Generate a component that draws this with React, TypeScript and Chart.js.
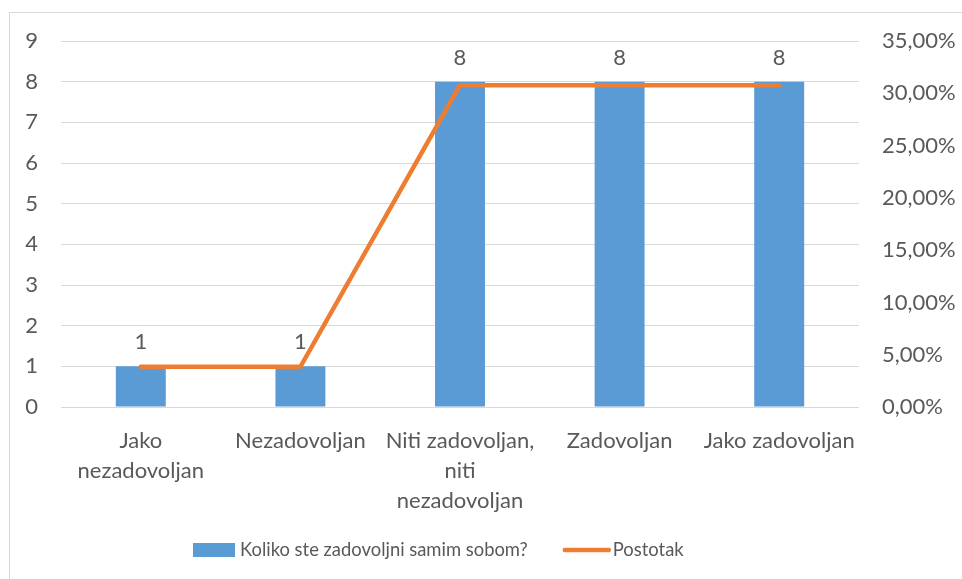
import React, { useEffect, useRef } from "react";
import { Chart, registerables } from "chart.js";

Chart.register(...registerables);

const categories: (string | string[])[] = [
  ["Jako", "nezadovoljan"],
  "Nezadovoljan",
  ["Niti zadovoljan,", "niti", "nezadovoljan"],
  "Zadovoljan",
  "Jako zadovoljan",
];
const counts = [1, 1, 8, 8, 8];
const percentages = [0.0385, 0.0385, 0.3077, 0.3077, 0.3077];
const barLabel = "Koliko ste zadovoljni samim sobom?";
const lineLabel = "Postotak";

const FONT = "Lato, sans-serif";
const TEXT = "#595959";
const BLUE = "#5b9bd5";
const ORANGE = "#ed7d31";
const GRID = "#d9d9d9";
const FS = 22;
const LEGEND_FS = 18.4;

const labelsPlugin = {
  id: "valueLabels",
  afterDatasetsDraw(chart: any) {
    const ctx = chart.ctx;
    const meta = chart.getDatasetMeta(1);
    ctx.save();
    ctx.font = `${FS}px ${FONT}`;
    ctx.fillStyle = TEXT;
    ctx.textAlign = "center";
    ctx.textBaseline = "middle";
    meta.data.forEach((el: any, i: number) => {
      ctx.fillText(String(counts[i]), el.x, el.y - 24);
    });
    ctx.restore();
  },
};

const legendPlugin = {
  id: "customLegend",
  afterDraw(chart: any) {
    const ctx = chart.ctx;
    ctx.save();
    ctx.font = `${LEGEND_FS}px ${FONT}`;
    ctx.textBaseline = "middle";
    ctx.textAlign = "left";
    const y = 550;
    let x = 193;
    ctx.fillStyle = BLUE;
    ctx.fillRect(x, y - 7, 42, 14);
    x += 47;
    ctx.fillStyle = TEXT;
    ctx.fillText(barLabel, x, y);
    x += ctx.measureText(barLabel).width + 36;
    ctx.strokeStyle = ORANGE;
    ctx.lineWidth = 4.5;
    ctx.lineCap = "round";
    ctx.beginPath();
    ctx.moveTo(x + 1, y);
    ctx.lineTo(x + 45, y);
    ctx.stroke();
    x += 49;
    ctx.fillText(lineLabel, x, y);
    ctx.restore();
  },
};

export default function App() {
  const ref = useRef<HTMLCanvasElement>(null);
  useEffect(() => {
    const chart = new Chart(ref.current!, {
      type: "bar",
      data: {
        labels: categories as any,
        datasets: [
          {
            type: "line",
            label: lineLabel,
            data: percentages,
            yAxisID: "y1",
            borderColor: ORANGE,
            backgroundColor: ORANGE,
            borderWidth: 4.5,
            pointRadius: 0,
            borderCapStyle: "round",
            borderJoinStyle: "round",
            order: 0,
          } as any,
          {
            type: "bar",
            label: barLabel,
            data: counts,
            yAxisID: "y",
            backgroundColor: BLUE,
            categoryPercentage: 1,
            barPercentage: 0.313,
            order: 1,
          } as any,
        ],
      },
      options: {
        responsive: false,
        animation: false,
        layout: { padding: { top: 41, left: 0, right: 0, bottom: 0 } },
        plugins: { legend: { display: false }, tooltip: { enabled: false } },
        scales: {
          x: {
            grid: { display: false },
            border: { display: false },
            ticks: {
              color: TEXT,
              font: { family: FONT, size: FS, lineHeight: 1.36 },
              padding: 11,
              maxRotation: 0,
              autoSkip: false,
            },
            afterFit(scale: any) {
              scale.height = 172;
            },
          },
          y: {
            position: "left",
            min: 0,
            max: 9,
            ticks: {
              stepSize: 1,
              color: TEXT,
              font: { family: FONT, size: FS },
              padding: 23,
            },
            grid: { color: GRID, lineWidth: 1, drawTicks: false },
            border: { display: false },
            afterFit(scale: any) {
              scale.width = 61;
            },
          },
          y1: {
            position: "right",
            min: 0,
            max: 0.35,
            ticks: {
              stepSize: 0.05,
              color: TEXT,
              font: { family: FONT, size: FS },
              padding: 23,
              callback: (v: any) => (Number(v) * 100).toFixed(2).replace(".", ",") + "%",
            },
            grid: { display: false, drawTicks: false },
            border: { display: false },
            afterFit(scale: any) {
              scale.width = 103;
            },
          },
        },
      },
      plugins: [labelsPlugin, legendPlugin],
    });
    return () => chart.destroy();
  }, []);

  return (
    <div style={{ position: "absolute", left: 0, top: 0, width: 962, height: 579, overflow: "hidden", background: "#fff" }}>
      <div
        style={{
          position: "absolute",
          left: 9,
          top: 12,
          width: 1000,
          height: 1000,
          borderLeft: `1px solid ${GRID}`,
          borderTop: `1px solid ${GRID}`,
          boxSizing: "border-box",
        }}
      />
      <canvas ref={ref} width={962} height={579} style={{ position: "absolute", left: 0, top: 0, display: "block" }} />
    </div>
  );
}
